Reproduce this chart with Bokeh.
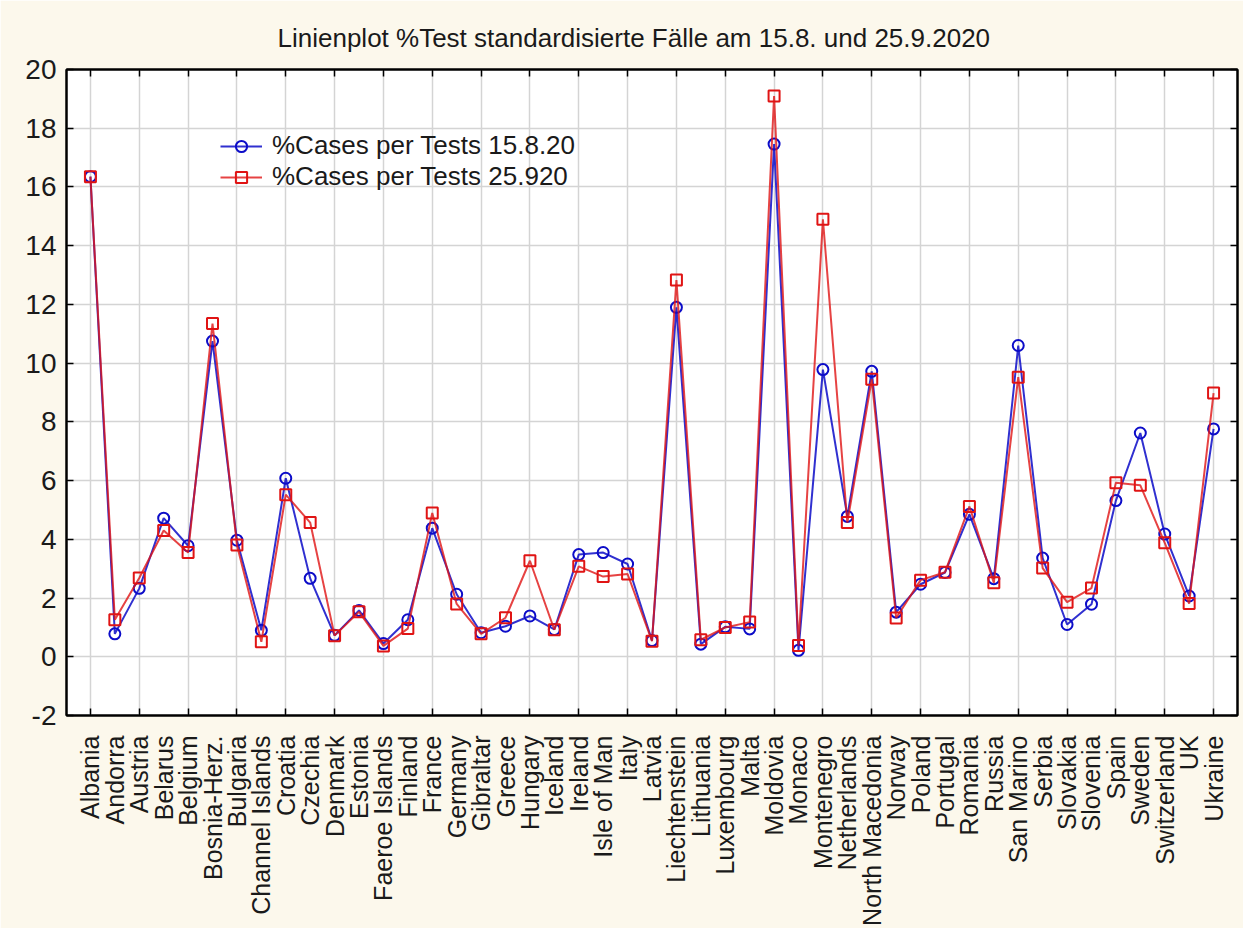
import numpy as np
from bokeh.plotting import figure
from bokeh.models import (FixedTicker, LinearAxis, Legend, LegendItem, Title, Range1d)
from bokeh.embed import file_html
from bokeh.resources import INLINE

countries = ["Albania", "Andorra", "Austria", "Belarus", "Belgium", "Bosnia-Herz.", "Bulgaria",
             "Channel Islands", "Croatia", "Czechia", "Denmark", "Estonia", "Faeroe Islands",
             "Finland", "France", "Germany", "Gibraltar", "Greece", "Hungary", "Iceland", "Ireland",
             "Isle of Man", "Italy", "Latvia", "Liechtenstein", "Lithuania", "Luxembourg", "Malta",
             "Moldovia", "Monaco", "Montenegro", "Netherlands", "North Macedonia", "Norway",
             "Poland", "Portugal", "Romania", "Russia", "San Marino", "Serbia", "Slovakia",
             "Slovenia", "Spain", "Sweden", "Switzerland", "UK", "Ukraine"]

cases_15_8 = [16.35, 0.78, 2.33, 4.72, 3.78, 10.75, 3.97, 0.9, 6.08, 2.67, 0.73, 1.58, 0.45,
              1.26, 4.38, 2.13, 0.82, 1.04, 1.39, 0.93, 3.48, 3.55, 3.16, 0.55, 11.9, 0.43,
              1.02, 0.95, 17.46, 0.22, 9.78, 4.78, 9.72, 1.52, 2.47, 2.87, 4.85, 2.66, 10.6,
              3.36, 1.1, 1.79, 5.32, 7.62, 4.18, 2.07, 7.76]

cases_25_9 = [16.35, 1.26, 2.68, 4.3, 3.55, 11.35, 3.81, 0.51, 5.52, 4.57, 0.72, 1.53, 0.37,
              0.96, 4.9, 1.8, 0.78, 1.33, 3.27, 0.92, 3.08, 2.73, 2.82, 0.53, 12.83, 0.58,
              1.0, 1.18, 19.1, 0.38, 14.9, 4.57, 9.45, 1.32, 2.61, 2.88, 5.12, 2.52, 9.52,
              3.02, 1.86, 2.34, 5.93, 5.84, 3.88, 1.81, 8.98]

y_ticks = list(range(-2, 21, 2))
y_tick_labels = [str(t) for t in y_ticks]

legend_labels = ["%Cases per Tests 15.8.20", "%Cases per Tests 25.920"]
title_text = "Linienplot %Test standardisierte Fälle am 15.8. und 25.9.2020"

FONT = "Liberation Sans"
BG = "#FCF8EC"
TXT = "#1a1a1a"

n = len(countries)
xs = list(range(n))
even = [i for i in xs if i % 2 == 0]

p = figure(width=1243, height=928, output_backend="svg", toolbar_location=None,
           x_range=Range1d(-0.98, n - 0.02), y_range=Range1d(-2, 20),
           min_border_left=66, min_border_right=6, min_border_top=69, min_border_bottom=210,
           background_fill_color="white", border_fill_color=BG,
           x_axis_location=None, y_axis_location=None)

p.outline_line_color = "black"
p.outline_line_width = 2

# bottom axis: labels at every category, small inner ticks at every second
xb = LinearAxis(ticker=FixedTicker(ticks=xs, minor_ticks=even))
xb.major_label_overrides = {i: c for i, c in enumerate(countries)}
xb.major_label_orientation = np.pi / 2
xb.major_label_text_font = FONT
xb.major_label_text_font_size = "25px"
xb.major_label_text_color = TXT
xb.major_label_standoff = 14
xb.major_tick_line_color = None
xb.minor_tick_in = 7
xb.minor_tick_out = 0
xb.minor_tick_line_color = "black"
xb.minor_tick_line_width = 1.5
xb.axis_line_color = "black"
xb.axis_line_width = 2
p.add_layout(xb, "below")

xt = LinearAxis(ticker=FixedTicker(ticks=even))
xt.major_label_text_font_size = "0px"
xt.major_label_text_color = None
xt.major_tick_in = 7
xt.major_tick_out = 0
xt.major_tick_line_width = 1.5
xt.minor_tick_line_color = None
xt.axis_line_color = "black"
xt.axis_line_width = 2
p.add_layout(xt, "above")

yl = LinearAxis(ticker=FixedTicker(ticks=y_ticks))
yl.major_label_overrides = dict(zip(y_ticks, y_tick_labels))
yl.major_label_text_font = FONT
yl.major_label_text_font_size = "28px"
yl.major_label_text_color = TXT
yl.major_label_standoff = 10
yl.major_tick_in = 7
yl.major_tick_out = 0
yl.major_tick_line_width = 1.5
yl.minor_tick_line_color = None
yl.axis_line_color = "black"
yl.axis_line_width = 2
p.add_layout(yl, "left")

yr = LinearAxis(ticker=FixedTicker(ticks=y_ticks))
yr.major_label_text_font_size = "0px"
yr.major_label_text_color = None
yr.major_tick_in = 7
yr.major_tick_out = 0
yr.major_tick_line_width = 1.5
yr.minor_tick_line_color = None
yr.axis_line_color = "black"
yr.axis_line_width = 2
p.add_layout(yr, "right")

p.xgrid.ticker = FixedTicker(ticks=even)
p.ygrid.ticker = FixedTicker(ticks=y_ticks)
for g in (p.xgrid, p.ygrid):
    g.grid_line_color = "#d4d4d4"
    g.grid_line_width = 1.5

blue = "#0c0cc8"
red = "#e01414"

l1 = p.line(xs, cases_15_8, line_color=blue, line_width=2, line_alpha=0.85)
m1 = p.scatter(xs, cases_15_8, marker="circle", size=11, line_color=blue, line_width=2,
               fill_color=None)
l2 = p.line(xs, cases_25_9, line_color=red, line_width=2, line_alpha=0.8)
m2 = p.scatter(xs, cases_25_9, marker="square", size=11, line_color=red, line_width=2,
               fill_color=None)

legend = Legend(items=[LegendItem(label=legend_labels[0], renderers=[l1, m1]),
                       LegendItem(label=legend_labels[1], renderers=[l2, m2])],
                location=(154, 523))
legend.label_text_font = FONT
legend.label_text_font_size = "26px"
legend.label_text_color = TXT
legend.glyph_width = 42
legend.glyph_height = 28
legend.label_height = 28
legend.label_standoff = 10
legend.spacing = -2
legend.padding = 0
legend.margin = 0
legend.border_line_color = None
legend.background_fill_alpha = 0
p.add_layout(legend, "center")

p.title = Title(text=title_text, align="left", offset=211, text_font=FONT,
                text_font_size="26px", text_font_style="normal", text_color=TXT,
                standoff=34)

open("out.html", "w").write(file_html(p, INLINE))
